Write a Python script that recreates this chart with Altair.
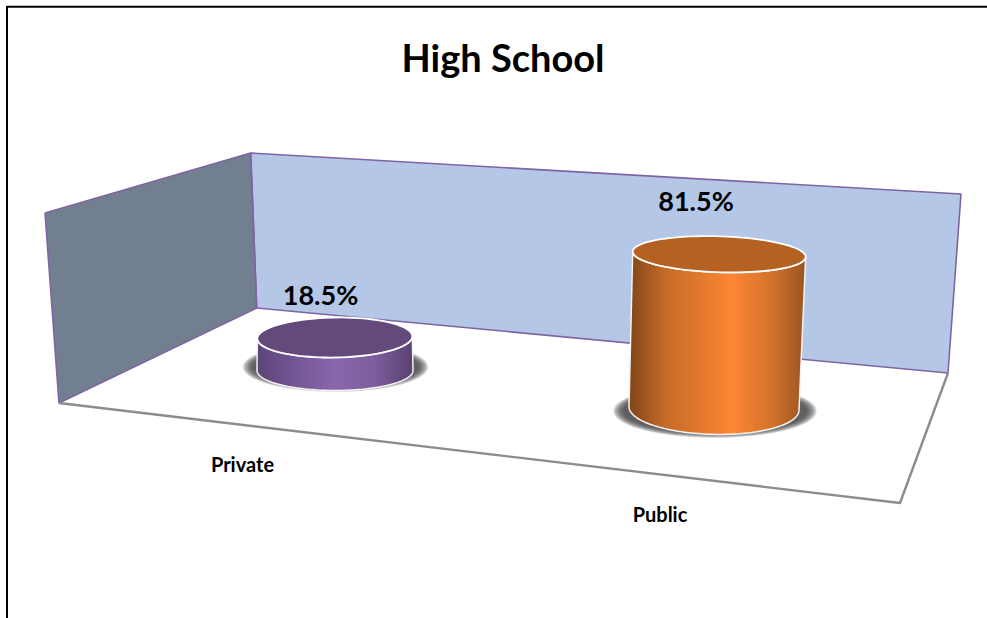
import altair as alt
import numpy as np
import pandas as pd

# Chart content
TITLE = "High School"
categories = ["Private", "Public"]
values = [18.5, 81.5]

FONT = "Lato"

# Colours
left_wall_fill = "#727f91"
back_wall_fill = "#b4c7e7"
wall_edge = "#8064a2"
floor_edge = "#8c8c8c"
top_fills = ["#644a7c", "#b46122"]
side_stops = [
    [(0.0, "#5c4577"), (0.2, "#6f5390"), (0.5, "#8a67ac"), (0.75, "#7e5e9e"), (1.0, "#574270")],
    [(0.0, "#7f4517"), (0.2, "#c46a28"), (0.58, "#fd8633"), (0.8, "#d5732c"), (1.0, "#9a5520")],
]

# Scene layout: the walls, the floor and each cylinder's footprint in canvas units
W, H = 987, 618
left_wall = [(45, 213), (250.7, 153), (256.7, 308), (59, 403)]
back_wall = [(250.7, 153), (961, 194), (948, 373), (256.7, 308)]
floor_front = [(59, 403), (900, 503), (948, 373)]

base = [dict(cx=335, cy=370.5, rx=78, ry=20, tilt=0.0),
        dict(cx=714, cy=408.4, rx=85, ry=26, tilt=0.02)]
top = [dict(cx=334.8, rx=77.5, ry=20, tilt=-0.015),
       dict(cx=719.2, rx=86.5, ry=18, tilt=0.03)]
units_per_percent = [1.784, 1.891]
shadow = [dict(cx=335.5, cy=367, rx=93, ry=25),
          dict(cx=715, cy=411, rx=102, ry=27)]

label_pos = [(242.5, 472), (660, 522)]
value_pos = [(320.5, 305), (696, 211)]

x_enc = alt.X("x:Q", scale=alt.Scale(domain=[0, W], nice=False, zero=False), axis=None)
y_enc = alt.Y("y:Q", scale=alt.Scale(domain=[H, 0], nice=False, zero=False), axis=None)


def ellipse(cx, cy, rx, ry, tilt=0.0, start=0.0, stop=2 * np.pi, n=90):
    t = np.linspace(start, stop, n)
    dx = rx * np.cos(t)
    return list(zip(cx + dx, cy + ry * np.sin(t) + tilt * dx))


def scan(poly):
    """Upper and lower bound of a convex polygon at each of its vertex x positions."""
    rows = []
    closed = list(poly) + [poly[0]]
    for x in sorted({p[0] for p in poly}):
        ys = []
        for (x0, y0), (x1, y1) in zip(closed, closed[1:]):
            if min(x0, x1) <= x <= max(x0, x1):
                if x0 == x1:
                    ys += [y0, y1]
                else:
                    ys.append(y0 + (y1 - y0) * (x - x0) / (x1 - x0))
        rows.append(dict(x=x, y=min(ys), y2=max(ys)))
    return pd.DataFrame(rows)


def fill(poly, paint, opacity=1.0):
    return alt.Chart(scan(poly)).mark_area(
        orient="vertical", fill=paint, opacity=opacity, strokeWidth=0
    ).encode(x=x_enc, y=y_enc, y2="y2:Q")


def outline(points, color, width):
    df = pd.DataFrame(points, columns=["x", "y"]).assign(i=lambda d: range(len(d)))
    return alt.Chart(df).mark_line(
        color=color, strokeWidth=width, strokeJoin="round", clip=False
    ).encode(x=x_enc, y=y_enc, order="i:Q")


def caption(text, pos, size):
    df = pd.DataFrame([dict(x=pos[0], y=pos[1], t=text)])
    return alt.Chart(df).mark_text(
        font=FONT, fontWeight="bold", fontSize=size, color="black", align="center", baseline="alphabetic"
    ).encode(x=x_enc, y=y_enc, text="t:N")


layers = [
    # Page frame
    outline([(7, 618), (7, 6.7), (987, 6.7)], "#000000", 2),
    caption(TITLE, (503, 72), 38),
    # Walls and floor
    fill(left_wall, left_wall_fill),
    fill(back_wall, back_wall_fill),
    outline(left_wall + left_wall[:1], wall_edge, 1.6),
    outline(back_wall + back_wall[:1], wall_edge, 1.6),
    outline(floor_front, floor_edge, 2.4),
]

for i, name in enumerate(categories):
    b, t = base[i], top[i]
    top_cy = b["cy"] - values[i] * units_per_percent[i]

    # Soft contact shadow built from nested ellipses
    s = shadow[i]
    for k in range(7):
        shrink = 7 - k
        layers.append(fill(ellipse(s["cx"], s["cy"], s["rx"] - (6 - shrink) * 1.6 - 2,
                                   s["ry"] - (6 - shrink) * 0.8 - 1),
                           "#404040", 0.22))

    # Cylinder side
    bottom_arc = ellipse(b["cx"], b["cy"], b["rx"], b["ry"], b["tilt"], np.pi, 0)
    top_arc = ellipse(t["cx"], top_cy, t["rx"], t["ry"], t["tilt"], 0, np.pi)
    body = bottom_arc + top_arc
    paint = alt.Gradient(
        gradient="linear", x1=0, y1=0, x2=1, y2=0,
        stops=[alt.GradientStop(offset=o, color=c) for o, c in side_stops[i]],
    )
    layers.append(fill(body, paint))
    layers.append(outline(body + body[:1], "#f4f4f4", 1.5))

    # Cylinder top
    cap = ellipse(t["cx"], top_cy, t["rx"], t["ry"], t["tilt"])
    layers.append(fill(cap, top_fills[i]))
    layers.append(outline(cap, "#ffffff", 1.8))

    layers.append(caption(f"{values[i]:.1f}%", value_pos[i], 27))
    layers.append(caption(name, label_pos[i], 20))

chart = alt.layer(*layers).properties(
    width=W, height=H, padding=0, background="white",
    autosize=alt.AutoSizeParams(type="none"),
).configure_view(stroke=None)

chart.save("out.html", embed_options={"renderer": "svg", "actions": False})
